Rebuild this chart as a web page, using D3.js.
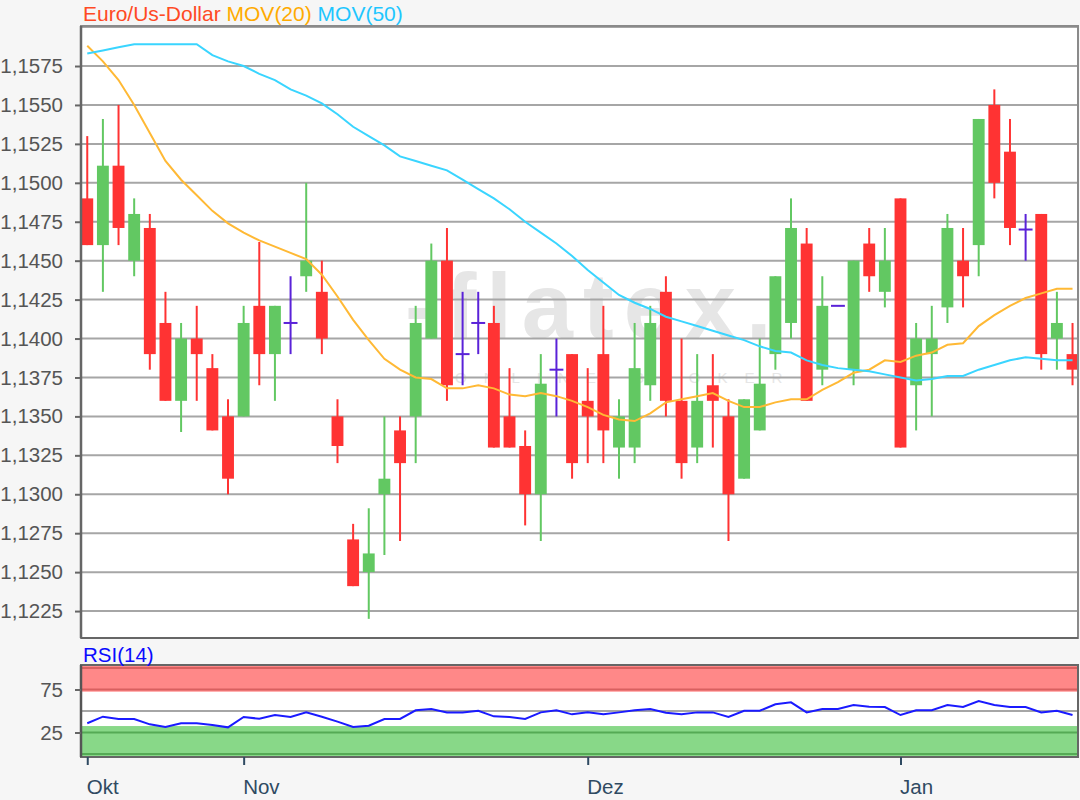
<!DOCTYPE html>
<html><head><meta charset="utf-8">
<script src="https://cdn.jsdelivr.net/npm/d3@7"></script>
<style>
html,body{margin:0;padding:0;background:#f6f6f6;}
svg{display:block;font-family:"Liberation Sans",Arial,sans-serif;}
</style></head>
<body>
<svg id="chart" width="1080" height="800"></svg>
<script>
// ---- data ----
const openV  = [1.1490,1.1460,1.1511,1.1450,1.1471,1.1410,1.1360,1.1400,1.1381,1.1350,
                1.1350,1.1421,1.1390,1.1410,1.1440,1.1430,1.1350,1.1271,1.1250,1.1300,
                1.1341,1.1350,1.1400,1.1450,1.1390,1.1410,1.1410,1.1350,1.1331,1.1300,
                1.1380,1.1390,1.1360,1.1390,1.1330,1.1330,1.1370,1.1430,1.1360,1.1330,
                1.1370,1.1350,1.1310,1.1341,1.1390,1.1410,1.1461,1.1380,1.1421,1.1380,
                1.1461,1.1430,1.1490,1.1370,1.1390,1.1420,1.1450,1.1460,1.1550,1.1520,
                1.1470,1.1480,1.1400,1.1390];
const highV  = [1.1530,1.1541,1.1550,1.1490,1.1480,1.1430,1.1410,1.1421,1.1390,1.1361,
                1.1421,1.1462,1.1421,1.1440,1.1500,1.1450,1.1361,1.1281,1.1291,1.1350,
                1.1350,1.1421,1.1461,1.1471,1.1430,1.1430,1.1421,1.1381,1.1341,1.1390,
                1.1400,1.1390,1.1381,1.1421,1.1361,1.1410,1.1421,1.1440,1.1400,1.1390,
                1.1390,1.1361,1.1361,1.1400,1.1440,1.1490,1.1471,1.1440,1.1421,1.1450,
                1.1471,1.1471,1.1490,1.1410,1.1421,1.1480,1.1471,1.1541,1.1560,1.1541,
                1.1480,1.1480,1.1430,1.1410];
const lowV   = [1.1460,1.1430,1.1460,1.1440,1.1380,1.1360,1.1340,1.1360,1.1341,1.1300,
                1.1350,1.1370,1.1360,1.1390,1.1430,1.1390,1.1320,1.1241,1.1220,1.1261,
                1.1270,1.1320,1.1400,1.1360,1.1370,1.1390,1.1330,1.1330,1.1280,1.1270,
                1.1350,1.1310,1.1320,1.1320,1.1310,1.1320,1.1360,1.1350,1.1310,1.1320,
                1.1330,1.1270,1.1310,1.1341,1.1380,1.1400,1.1360,1.1370,1.1421,1.1370,
                1.1430,1.1420,1.1330,1.1341,1.1350,1.1410,1.1420,1.1440,1.1490,1.1460,
                1.1450,1.1380,1.1380,1.1370];
const closeV = [1.1460,1.1511,1.1471,1.1480,1.1390,1.1360,1.1400,1.1390,1.1341,1.1310,
                1.1410,1.1390,1.1421,1.1410,1.1450,1.1400,1.1331,1.1241,1.1262,1.1310,
                1.1320,1.1410,1.1450,1.1370,1.1390,1.1410,1.1330,1.1330,1.1300,1.1371,
                1.1380,1.1320,1.1350,1.1341,1.1350,1.1381,1.1410,1.1360,1.1320,1.1360,
                1.1360,1.1300,1.1361,1.1371,1.1440,1.1471,1.1360,1.1421,1.1421,1.1450,
                1.1440,1.1450,1.1330,1.1400,1.1400,1.1471,1.1440,1.1541,1.1500,1.1471,
                1.1470,1.1390,1.1410,1.1380];
const mov20  = [1.1588,1.1578,1.1566,1.1550,1.1532,1.1514,1.1502,1.1492,1.1482,1.1474,
                1.1468,1.1463,1.1459,1.1455,1.1451,1.1441,1.1427,1.1412,1.1399,1.1387,
                1.1380,1.1375,1.1374,1.1368,1.1368,1.1370,1.1368,1.1364,1.1363,1.1365,
                1.1363,1.1360,1.1356,1.1351,1.1348,1.1347,1.1352,1.1359,1.1361,1.1363,
                1.1365,1.1360,1.1356,1.1356,1.1359,1.1361,1.1361,1.1367,1.1372,1.1378,
                1.1380,1.1386,1.1385,1.1389,1.1391,1.1396,1.1397,1.1408,1.1415,1.1421,
                1.1426,1.1429,1.1432,1.1432];
const mov50  = [1.1583,1.1585,1.1587,1.1589,1.1589,1.1589,1.1589,1.1589,1.1582,1.1578,
                1.1575,1.1570,1.1566,1.1560,1.1556,1.1551,1.1544,1.1536,1.1530,1.1524,
                1.1517,1.1514,1.1511,1.1508,1.1502,1.1496,1.1490,1.1483,1.1475,1.1468,
                1.1461,1.1453,1.1444,1.1436,1.1428,1.1423,1.1419,1.1414,1.1411,1.1408,
                1.1405,1.1402,1.1399,1.1395,1.1392,1.1391,1.1386,1.1383,1.1381,1.1380,
                1.1379,1.1377,1.1375,1.1373,1.1374,1.1376,1.1376,1.1380,1.1383,1.1386,
                1.1388,1.1387,1.1386,1.1386];
const rsi14  = [35.7,43.4,40.7,40.7,34.5,31.4,35.7,35.7,33.7,31.0,
                43.0,41.0,45.3,43.0,48.4,43.4,37.6,31.4,32.9,40.7,
                40.7,50.8,52.3,48.4,48.4,50.3,43.8,43.0,40.7,48.4,
                50.8,46.1,48.4,46.1,48.4,50.8,52.3,48.0,46.1,48.4,
                48.4,43.0,50.3,50.3,57.8,60.1,48.4,52.3,52.3,57.0,
                55.0,54.6,45.3,50.8,50.8,57.0,54.6,61.6,57.0,54.6,
                54.6,48.4,50.3,45.3];
const monthLabels = ["Okt","Nov","Dez","Jan"];
const monthIndex  = [0,10,32,52];
const priceTicks  = [1.1225,1.1250,1.1275,1.1300,1.1325,1.1350,1.1375,1.1400,
                     1.1425,1.1450,1.1475,1.1500,1.1525,1.1550,1.1575];
const priceGrid   = priceTicks.concat([1.1600]);
const rsiTicks    = [25,75];
const rsiLines    = [0,25,75,100];
const rsiMid      = 50;
const rsiBands    = {over:[72.5,103.5], under:[-3.5,32.5]};

// ---- layout ----
const svg = d3.select("#chart");
const L = 81, R = 1078, T = 26, B = 638;
const RT = 665, RB = 757;
const n = openV.length;

const x = d3.scaleLinear().domain([-0.4, n - 1 + 0.35]).range([L, R]);
const step = x(1) - x(0);
const y = d3.scaleLinear().domain([1.12077, 1.16007]).range([B, T]);
const yr = d3.scaleLinear().domain([-3.5, 103.5]).range([RB, RT]);
const fmt = v => d3.format(".4f")(v).replace(".", ",");

// main plot background
svg.append("rect").attr("x", L).attr("y", T).attr("width", R - L).attr("height", B - T).attr("fill", "#fff");

// watermark
const wm = svg.append("g").attr("fill", "#e6e6e6");
wm.append("text").attr("x", 405).attr("y", 338)
  .attr("font-size", 92).attr("font-weight", "bold").attr("letter-spacing", 10).text("-flatex.");
wm.append("text").attr("x", 455).attr("y", 383)
  .attr("font-size", 15).attr("letter-spacing", 17).text("ONLINE BROKER");

// grid
svg.append("g").selectAll("line").data(priceGrid).join("line")
  .attr("x1", L).attr("x2", R).attr("y1", d => y(d)).attr("y2", d => y(d))
  .attr("stroke", "#a6a6a6").attr("stroke-width", 2);

// candles
const idx = d3.range(n);
const bodyW = step * 0.76;
const g = svg.append("g");
const colorOf = i => openV[i] === closeV[i] ? "#5a22d8" : (closeV[i] > openV[i] ? "#62c862" : "#ff3333");
g.selectAll("line.wick").data(idx).join("line").attr("class", "wick")
  .attr("x1", i => x(i)).attr("x2", i => x(i))
  .attr("y1", i => y(highV[i])).attr("y2", i => y(lowV[i]))
  .attr("stroke", colorOf).attr("stroke-width", 2);
g.selectAll("rect.body").data(idx.filter(i => openV[i] !== closeV[i])).join("rect").attr("class", "body")
  .attr("x", i => x(i) - bodyW / 2).attr("width", bodyW)
  .attr("y", i => y(Math.max(openV[i], closeV[i])))
  .attr("height", i => Math.abs(y(openV[i]) - y(closeV[i])))
  .attr("fill", colorOf);
g.selectAll("line.doji").data(idx.filter(i => openV[i] === closeV[i])).join("line").attr("class", "doji")
  .attr("x1", i => x(i) - bodyW / 2 - 1).attr("x2", i => x(i) + bodyW / 2 + 1)
  .attr("y1", i => y(openV[i])).attr("y2", i => y(openV[i]))
  .attr("stroke", "#5a22d8").attr("stroke-width", 2);

// moving averages
const line = arr => d3.line().x((d, i) => x(i)).y(d => y(d))(arr);
svg.append("path").attr("d", line(mov20)).attr("fill", "none").attr("stroke", "#ffb935").attr("stroke-width", 2);
svg.append("path").attr("d", line(mov50)).attr("fill", "none").attr("stroke", "#3ad5ff").attr("stroke-width", 2);

// frame
svg.append("rect").attr("x", L).attr("y", T).attr("width", R - L).attr("height", B - T)
  .attr("fill", "none").attr("stroke", "#8a8a8a").attr("stroke-width", 2);
svg.append("line").attr("x1", L).attr("x2", L).attr("y1", T).attr("y2", B).attr("stroke", "#666").attr("stroke-width", 2.5);
svg.append("line").attr("x1", L).attr("x2", R).attr("y1", B).attr("y2", B).attr("stroke", "#666").attr("stroke-width", 2);

// y axis
const ya = svg.append("g").attr("transform", `translate(${L},0)`)
  .call(d3.axisLeft(y).tickValues(priceTicks).tickFormat(fmt).tickSize(6).tickPadding(12));
ya.select(".domain").remove();
ya.selectAll(".tick line").attr("stroke", "#666").attr("stroke-width", 2);
ya.selectAll(".tick text").attr("font-size", 20.5).attr("fill", "#555").attr("font-family", "Liberation Sans, Arial, sans-serif");

// title
const title = svg.append("text").attr("x", 83).attr("y", 21).attr("font-size", 21);
title.append("tspan").attr("fill", "#ff4a24").text("Euro/Us-Dollar ");
title.append("tspan").attr("fill", "#ffaa00").text("MOV(20) ");
title.append("tspan").attr("fill", "#1fc6ff").text("MOV(50)");

// ---- RSI panel ----
svg.append("rect").attr("x", L).attr("y", RT).attr("width", R - L).attr("height", RB - RT).attr("fill", "#fff");
svg.append("rect").attr("x", L).attr("y", yr(rsiBands.over[1])).attr("width", R - L)
  .attr("height", yr(rsiBands.over[0]) - yr(rsiBands.over[1])).attr("fill", "#ff8888");
svg.append("rect").attr("x", L).attr("y", yr(rsiBands.under[1])).attr("width", R - L)
  .attr("height", yr(rsiBands.under[0]) - yr(rsiBands.under[1])).attr("fill", "#88d888");
svg.append("g").selectAll("line").data(rsiLines).join("line")
  .attr("x1", L).attr("x2", R).attr("y1", d => yr(d)).attr("y2", d => yr(d))
  .attr("stroke", d => d > 50 ? "#d96060" : "#55aa55").attr("stroke-width", 2);
svg.append("line").attr("x1", L).attr("x2", R).attr("y1", yr(rsiMid)).attr("y2", yr(rsiMid))
  .attr("stroke", "#a6a6a6").attr("stroke-width", 2);
svg.append("path").attr("d", d3.line().x((d, i) => x(i)).y(d => yr(d))(rsi14))
  .attr("fill", "none").attr("stroke", "#1a1aff").attr("stroke-width", 2);
svg.append("rect").attr("x", L).attr("y", RT).attr("width", R - L).attr("height", RB - RT)
  .attr("fill", "none").attr("stroke", "#666").attr("stroke-width", 2);
svg.append("line").attr("x1", L).attr("x2", L).attr("y1", RT).attr("y2", RB).attr("stroke", "#555").attr("stroke-width", 2.5);

const ra = svg.append("g").attr("transform", `translate(${L},0)`)
  .call(d3.axisLeft(yr).tickValues(rsiTicks).tickSize(6).tickPadding(12));
ra.select(".domain").remove();
ra.selectAll(".tick line").attr("stroke", "#666").attr("stroke-width", 2);
ra.selectAll(".tick text").attr("font-size", 20.5).attr("fill", "#555").attr("font-family", "Liberation Sans, Arial, sans-serif");

svg.append("text").attr("x", 83).attr("y", 662).attr("font-size", 20.5).attr("fill", "#0a0aff").text("RSI(14)");

// x axis
const xa = svg.append("g").attr("transform", `translate(0,${RB})`)
  .call(d3.axisBottom(x).tickValues(monthIndex).tickFormat((d, i) => monthLabels[i]).tickSize(8).tickPadding(14));
xa.select(".domain").remove();
xa.selectAll(".tick line").attr("stroke", "#2f4a62").attr("stroke-width", 2);
xa.selectAll(".tick text").attr("font-size", 20.5).attr("fill", "#2f4a62")
  .attr("text-anchor", "start").attr("dx", -1).attr("font-family", "Liberation Sans, Arial, sans-serif");
</script>
</body></html>
